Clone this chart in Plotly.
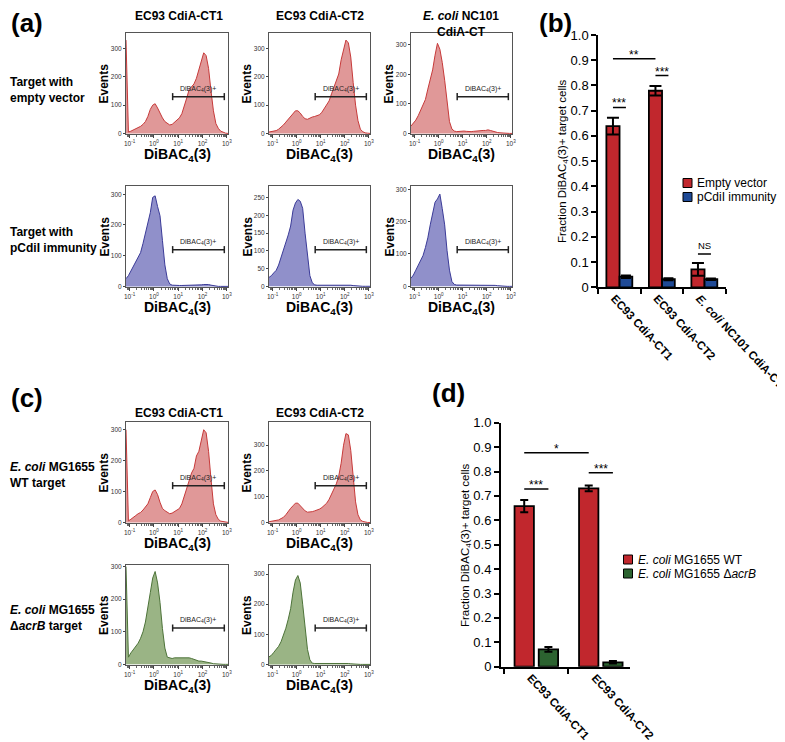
import math
import plotly.graph_objects as go

W, H = 785, 742
PAGE_OFFSET = 8  # the page body margin shifts the figure by this many pixels
FONT = "Liberation Sans, Arial, Helvetica, sans-serif"

# ---------------- data ----------------
bins_log = [-1.15, -1.05, -0.95, -0.85, -0.75, -0.65, -0.55, -0.45, -0.35, -0.25,
            -0.15, -0.05, 0.05, 0.15, 0.25, 0.35, 0.45, 0.55, 0.65, 0.75,
            0.85, 0.95, 1.05, 1.15, 1.25, 1.35, 1.45, 1.55, 1.65, 1.75,
            1.85, 1.95, 2.05, 2.15, 2.25, 2.35, 2.45, 2.55, 2.65, 2.75,
            2.85, 2.95, 3.05]

a_ct1_empty = [330, 5, 8, 12, 16, 20, 25, 32, 42, 60, 85, 100, 105, 90, 70, 55, 42, 35, 30, 32,
               40, 48, 55, 70, 95, 125, 155, 165, 175, 195, 225, 250, 285, 275, 230, 150, 80, 35,
               18, 8, 3, 1, 0]
a_ct2_empty = [5, 6, 8, 10, 15, 22, 30, 40, 50, 62, 72, 80, 80, 72, 60, 52, 50, 55, 58, 60,
               62, 66, 75, 90, 100, 115, 140, 165, 185, 210, 260, 300, 330, 320, 270, 180, 100, 45,
               15, 6, 2, 1, 0]
a_nc101_empty = [25, 35, 45, 60, 80, 95, 115, 150, 180, 215, 265, 305, 285, 240, 180, 100, 40, 15, 8, 6,
                 7, 8, 8, 7, 6, 6, 7, 8, 10, 9, 10, 10, 12, 10, 7, 4, 3, 2, 1, 1, 0, 0, 0]
a_ct1_immune = [25, 35, 50, 65, 75, 90, 110, 140, 175, 200, 240, 290, 295, 260, 230, 150, 70, 25, 8, 4,
                3, 3, 3, 3, 3, 3, 3, 3, 3, 3, 4, 5, 6, 7, 6, 4, 2, 1, 0, 0, 0, 0, 0]
a_ct2_immune = [25, 30, 38, 45, 60, 80, 100, 120, 145, 170, 215, 235, 245, 240, 220, 150, 80, 30, 10, 4,
                3, 3, 3, 3, 3, 3, 3, 3, 3, 3, 4, 5, 4, 3, 3, 2, 1, 0, 0, 0, 0, 0, 0]
a_nc101_immune = [25, 35, 50, 65, 75, 95, 120, 150, 190, 230, 260, 270, 285, 240, 190, 110, 50, 15, 6, 4,
                  4, 4, 4, 4, 4, 4, 4, 4, 4, 4, 4, 5, 5, 5, 4, 3, 2, 1, 0, 0, 0, 0, 0]
c_ct1_wt = [300, 5, 10, 15, 22, 28, 32, 40, 50, 60, 80, 100, 105, 90, 65, 45, 38, 32, 28, 30,
            35, 40, 45, 60, 85, 110, 140, 160, 175, 215, 230, 270, 300, 290, 230, 140, 60, 25,
            10, 4, 2, 0, 0]
c_ct2_wt = [3, 5, 6, 8, 10, 15, 20, 30, 45, 55, 65, 75, 75, 65, 55, 45, 40, 40, 42, 45,
            48, 52, 58, 65, 75, 90, 110, 130, 150, 180, 230, 300, 345, 340, 280, 180, 80, 30,
            10, 4, 1, 0, 0]
c_ct1_acrb = [300, 22, 35, 45, 55, 65, 80, 100, 130, 170, 220, 265, 285, 250, 190, 110, 50, 22, 20, 18,
              20, 20, 22, 22, 20, 22, 20, 18, 15, 12, 10, 10, 9, 8, 6, 4, 2, 1, 0, 0, 0, 0, 0]
c_ct2_acrb = [25, 30, 40, 50, 60, 75, 95, 120, 150, 185, 240, 280, 295, 270, 200, 120, 50, 15, 4, 3,
              3, 3, 3, 3, 3, 3, 3, 3, 3, 3, 4, 5, 4, 3, 2, 1, 0, 0, 0, 0, 0, 0, 0]

GATE_LOW, GATE_HIGH = 5.9, 790

b_categories = ["EC93 CdiA-CT1", "EC93 CdiA-CT2", "<i>E. coli</i> NC101 CdiA-CT"]
b_empty = [0.639, 0.779, 0.071]
b_empty_err = [0.033, 0.019, 0.025]
b_immune = [0.042, 0.032, 0.032]
b_immune_err = [0.005, 0.004, 0.003]

d_categories = ["EC93 CdiA-CT1", "EC93 CdiA-CT2"]
d_wt = [0.658, 0.731]
d_wt_err = [0.025, 0.012]
d_acrb = [0.071, 0.018]
d_acrb_err = [0.010, 0.005]

tick_vals = [0.1, 1, 10, 100, 1000]
tick_text = ["10<sup>-1</sup>", "10<sup>0</sup>", "10<sup>1</sup>", "10<sup>2</sup>", "10<sup>3</sup>"]

# ---------------- styles / layout helpers ----------------
STYLE = {
    "red": dict(line="#c73a3a", fill="rgba(218,134,134,0.85)"),
    "blue": dict(line="#3b3b98", fill="rgba(132,132,196,0.9)"),
    "green": dict(line="#4d7339", fill="rgba(143,172,120,0.9)"),
}
BAR_RED, BAR_BLUE, BAR_GREEN = "#c1272d", "#1f4a96", "#2c6330"

COLS = [(126, 228), (269, 370), (411, 512)]
ROWS = {"a1": (33, 134), "a2": (186, 287), "c1": (422, 523), "c2": (565, 665)}

hist_panels = [
    (a_ct1_empty, "red", 0, "a1", 355, [0, 100, 200, 300]),
    (a_ct2_empty, "red", 1, "a1", 355, [0, 100, 200, 300]),
    (a_nc101_empty, "red", 2, "a1", 340, [0, 100, 200, 300]),
    (a_ct1_immune, "blue", 0, "a2", 327, [0, 100, 200, 300]),
    (a_ct2_immune, "blue", 1, "a2", 283, [0, 50, 100, 150, 200, 250]),
    (a_nc101_immune, "blue", 2, "a2", 310, [0, 100, 200, 300]),
    (c_ct1_wt, "red", 0, "c1", 325, [0, 100, 200, 300]),
    (c_ct2_wt, "red", 1, "c1", 390, [0, 100, 200, 300]),
    (c_ct1_acrb, "green", 0, "c2", 305, [0, 100, 200, 300]),
    (c_ct2_acrb, "green", 1, "c2", 330, [0, 100, 200, 300]),
]


def px_x(x):
    return (x - PAGE_OFFSET) / W


def px_y(y):
    return 1 - (y - PAGE_OFFSET) / H


dibac = [10 ** v for v in bins_log]
minor_vals = [m * 10 ** e for e in range(-2, 4) for m in range(2, 10)]

fig = go.Figure()
layout = {}
shapes = []
annotations = []


def ann(text, x, y, size=12, bold=False, **kw):
    t = f"<b>{text}</b>" if bold else text
    d = dict(text=t, x=px_x(x), y=px_y(y), xref="paper", yref="paper", showarrow=False,
             font=dict(size=size, color="black", family=FONT), xanchor="center", yanchor="middle")
    d.update(kw)
    annotations.append(d)


for i, (vals, style, col, row, ymax, yticks) in enumerate(hist_panels, start=1):
    sx = "" if i == 1 else str(i)
    x0, x1 = COLS[col]
    top, bot = ROWS[row]
    fig.add_trace(go.Scatter(x=dibac, y=vals, mode="lines",
                             line=dict(color=STYLE[style]["line"], width=1),
                             fill="tozeroy", fillcolor=STYLE[style]["fill"],
                             xaxis="x" + sx, yaxis="y" + sx, showlegend=False, hoverinfo="skip"))
    layout["xaxis" + sx] = dict(
        domain=[px_x(x0), px_x(x1)], anchor="y" + sx, type="log", range=[-1.15, 3.05],
        tickvals=tick_vals, ticktext=tick_text, ticks="outside", ticklen=3, tickwidth=1,
        tickcolor="#444", tickfont=dict(size=6.5, color="#333", family=FONT),
        showline=True, linecolor="#555", linewidth=1, mirror=True, showgrid=False, zeroline=False,
        automargin=False,
        minor=dict(tickvals=minor_vals, ticks="outside", ticklen=1.5, tickcolor="#666", showgrid=False),
    )
    layout["yaxis" + sx] = dict(
        domain=[px_y(bot), px_y(top)], anchor="x" + sx, range=[-2, ymax],
        tickvals=yticks, ticks="outside", ticklen=2, tickwidth=1, tickcolor="#444",
        tickfont=dict(size=6.5, color="#333", family=FONT), automargin=False,
        showline=True, linecolor="#555", linewidth=1, mirror=True, showgrid=False, zeroline=False,
    )
    # gate
    gy = 0.37
    shapes.append(dict(type="line", xref="x" + sx, yref=f"y{sx} domain", x0=GATE_LOW, x1=GATE_HIGH,
                       y0=gy, y1=gy, line=dict(color="#222", width=1.5)))
    for gx in (GATE_LOW, GATE_HIGH):
        shapes.append(dict(type="line", xref="x" + sx, yref=f"y{sx} domain", x0=gx, x1=gx,
                           y0=gy - 0.035, y1=gy + 0.035, line=dict(color="#222", width=1.5)))
    annotations.append(dict(text="DiBAC<sub>4</sub>(3)+", xref="x" + sx, yref=f"y{sx} domain",
                            x=(math.log10(GATE_LOW) + math.log10(GATE_HIGH)) / 2, y=gy + 0.02,
                            yanchor="bottom", xanchor="center", showarrow=False,
                            font=dict(size=7, color="#222", family=FONT)))
    # axis titles
    cx = (x0 + x1) / 2
    ann("DiBAC<sub>4</sub>(3)", cx, bot + 21, size=14, bold=True)
    ann("Events", x0 - 22, (top + bot) / 2, size=12, bold=True, textangle=-90)

# ---------------- bar chart (b) ----------------
B_OFF = {"red": (-0.31, 0.31), "blue": (0.0, 0.30)}
fig.add_trace(go.Bar(x=b_categories, y=b_empty, name="Empty vector",
                     marker=dict(color=BAR_RED, line=dict(color="black", width=1.8)),
                     error_y=dict(type="data", array=b_empty_err, color="black", thickness=2, width=6),
                     offset=B_OFF["red"][0], width=B_OFF["red"][1], showlegend=False,
                     xaxis="x11", yaxis="y11", hoverinfo="skip"))
fig.add_trace(go.Bar(x=b_categories, y=b_immune, name="pCdiI immunity",
                     marker=dict(color=BAR_BLUE, line=dict(color="black", width=1.8)),
                     error_y=dict(type="data", array=b_immune_err, color="black", thickness=2, width=5),
                     offset=B_OFF["blue"][0], width=B_OFF["blue"][1], showlegend=False,
                     xaxis="x11", yaxis="y11", hoverinfo="skip"))

# ---------------- bar chart (d) ----------------
D_OFF = {"red": (-0.33, 0.30), "green": (0.045, 0.30)}
fig.add_trace(go.Bar(x=d_categories, y=d_wt, name="<i>E. coli</i> MG1655 WT",
                     marker=dict(color=BAR_RED, line=dict(color="black", width=1.8)),
                     error_y=dict(type="data", array=d_wt_err, color="black", thickness=2, width=4),
                     offset=D_OFF["red"][0], width=D_OFF["red"][1], showlegend=False,
                     xaxis="x12", yaxis="y12", hoverinfo="skip"))
fig.add_trace(go.Bar(x=d_categories, y=d_acrb, name="<i>E. coli</i> MG1655 Δ<i>acrB</i>",
                     marker=dict(color=BAR_GREEN, line=dict(color="black", width=1.8)),
                     error_y=dict(type="data", array=d_acrb_err, color="black", thickness=2, width=4),
                     offset=D_OFF["green"][0], width=D_OFF["green"][1], showlegend=False,
                     xaxis="x12", yaxis="y12", hoverinfo="skip"))

frac_vals = [0, 0.1, 0.2, 0.3, 0.4, 0.5, 0.6, 0.7, 0.8, 0.9, 1.0]
frac_text = ["0"] + [f"{v:.1f}" for v in frac_vals[1:]]


def bar_axes(n, xdom, ydom, xrange_):
    layout[f"xaxis{n}"] = dict(
        domain=xdom, anchor=f"y{n}", type="category", range=xrange_, automargin=False,
        showline=True, linecolor="black", linewidth=2, ticks="outside", tickson="boundaries",
        ticklen=5, tickwidth=2, tickcolor="black", tickangle=47, showgrid=False, zeroline=False,
        ticklabelshift=-5, ticklabelstandoff=-2,
        tickfont=dict(size=11.5, color="black", family=FONT, weight="bold"),
    )
    layout[f"yaxis{n}"] = dict(
        domain=ydom, anchor=f"x{n}", range=[0, 1.0], tickvals=frac_vals, ticktext=frac_text,
        showline=True, linecolor="black", linewidth=2, ticks="outside", ticklen=5, tickwidth=2,
        tickcolor="black", showgrid=False, zeroline=False, automargin=False,
        tickfont=dict(size=13, color="black", family=FONT),
    )


bar_axes(11, [px_x(598.3), px_x(725.8)], [px_y(287.3), px_y(35)], [-0.5, 2.5])
bar_axes(12, [px_x(501), px_x(630)], [px_y(666.7), px_y(422.7)], [-0.54, 1.46])

ann("Fraction DiBAC<sub>4</sub>(3)+ target cells", 563, 161, size=11.5, textangle=-90)
ann("Fraction DiBAC<sub>4</sub>(3)+ target cells", 466, 545, size=11.5, textangle=-90)

# significance brackets
sig_b = [(0, "red", 0, "blue", 0.713, "***"), (0, "red", 1, "red", 0.906, "**"),
         (1, "red", 1, "blue", 0.839, "***"), (2, "red", 2, "blue", 0.132, "NS")]
sig_d = [(0, "red", 0, "green", 0.728, "***"), (0, "red", 1, "red", 0.877, "*"),
         (1, "red", 1, "green", 0.795, "***")]


def add_sigs(sigs, offs, n):
    for c0, s0, c1, s1, yv, lab in sigs:
        xa = c0 + offs[s0][0] + offs[s0][1] / 2
        xb = c1 + offs[s1][0] + offs[s1][1] / 2
        shapes.append(dict(type="line", xref=f"x{n}", yref=f"y{n}", x0=xa, x1=xb, y0=yv, y1=yv,
                           line=dict(color="black", width=1.5)))
        is_star = "*" in lab
        annotations.append(dict(text=lab, xref=f"x{n}", yref=f"y{n}", x=(xa + xb) / 2, y=yv,
                                yanchor="bottom", xanchor="center", showarrow=False,
                                yshift=-5 if is_star else 1,
                                font=dict(size=12 if is_star else 9.5, color="black", family=FONT)))


add_sigs(sig_b, B_OFF, 11)
add_sigs(sig_d, D_OFF, 12)

# ---------------- legends (key squares + labels) ----------------
legend_b = [("Empty vector", BAR_RED), ("pCdiI immunity", BAR_BLUE)]
legend_d = [("<i>E. coli</i> MG1655 WT", BAR_RED), ("<i>E. coli</i> MG1655 Δ<i>acrB</i>", BAR_GREEN)]


def draw_legend(items, x_sq, y_first, step=14, sq=9):
    for j, (label, color) in enumerate(items):
        yc = y_first + j * step
        shapes.append(dict(type="rect", xref="paper", yref="paper",
                           x0=px_x(x_sq), x1=px_x(x_sq + sq), y0=px_y(yc + sq / 2), y1=px_y(yc - sq / 2),
                           fillcolor=color, line=dict(color="black", width=1)))
        ann(label, x_sq + sq + 3, yc, size=12, xanchor="left")


draw_legend(legend_b, 683, 183)
draw_legend(legend_d, 623.5, 559.5)

# ---------------- text labels ----------------
ann("(a)", 27, 23, size=26, bold=True)
ann("(b)", 555, 23, size=26, bold=True)
ann("(c)", 27, 398, size=26, bold=True)
ann("(d)", 448, 393, size=26, bold=True)

ann("EC93 CdiA-CT1", 179, 16, size=12, bold=True)
ann("EC93 CdiA-CT2", 320, 16, size=12, bold=True)
ann("<i>E. coli</i> NC101<br>CdiA-CT", 461, 24, size=12, bold=True)
ann("EC93 CdiA-CT1", 179, 413, size=12, bold=True)
ann("EC93 CdiA-CT2", 320, 413, size=12, bold=True)

LABEL_X = PAGE_OFFSET
ann("Target with<br>empty vector", LABEL_X, 90, size=12, bold=True, xanchor="left", align="left")
ann("Target with<br>pCdiI immunity", LABEL_X, 240, size=12, bold=True, xanchor="left", align="left")
ann("<i>E. coli</i> MG1655<br>WT target", LABEL_X, 475, size=12, bold=True, xanchor="left", align="left")
ann("<i>E. coli</i> MG1655<br>Δ<i>acrB</i> target", LABEL_X, 618, size=12, bold=True, xanchor="left", align="left")

fig.update_layout(
    template="none",
    width=W, height=H, margin=dict(l=0, r=0, t=0, b=0, autoexpand=False),
    paper_bgcolor="white", plot_bgcolor="white",
    font=dict(family=FONT, color="black"),
    barmode="group", showlegend=False,
    shapes=shapes, annotations=annotations,
    **layout,
)

fig.write_html("out.html")
